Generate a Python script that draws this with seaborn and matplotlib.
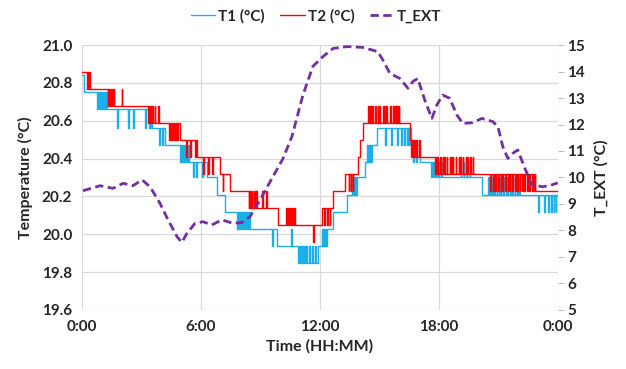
import numpy as np
import pandas as pd
import matplotlib
matplotlib.use("Agg")
import matplotlib.pyplot as plt
import seaborn as sns

# T1 staircase: hour where a level starts, and the level
t1_hours = [0.00, 0.12, 0.76, 3.55, 4.18, 5.20, 6.30, 6.81, 7.20, 8.10, 9.83, 11.35,
            11.90, 12.35, 12.66, 13.36, 13.85, 14.30, 14.62, 14.88, 16.39, 17.04,
            17.70, 20.17, 24.00]
t1_levels = [20.84, 20.75, 20.66, 20.56, 20.47, 20.38, 20.30, 20.21, 20.12, 20.03, 19.94, 19.85,
             19.94, 20.03, 20.12, 20.21, 20.30, 20.38, 20.47, 20.56, 20.47, 20.38,
             20.30, 20.21, 20.21]
# short sensor flickers of T1
t1_spike_hours = [0.82, 0.90, 0.98, 1.06, 1.14, 1.22, 1.76, 2.32, 2.57, 3.18, 3.40, 3.47,
                  3.90, 4.05, 4.95, 5.03, 5.11, 5.27, 5.35, 5.60, 5.75, 6.05,
                  7.82, 7.90, 7.98, 8.06, 8.18, 8.26, 8.34, 8.42, 9.58, 10.54,
                  10.92, 11.00, 11.08, 11.16, 11.24, 11.45, 11.60, 11.75, 12.12, 12.20, 12.28,
                  13.62, 13.70, 13.78, 14.40, 14.47, 14.54,
                  15.30, 15.60, 15.90, 16.10, 16.25, 16.45, 16.55, 16.70, 16.85, 17.60,
                  17.75, 17.85, 17.95, 18.10, 19.10, 19.25, 19.40, 19.55,
                  20.50, 20.58, 20.70, 20.80, 20.92, 21.05, 21.12, 21.25, 21.38, 21.45,
                  21.60, 21.70, 21.82, 21.95, 22.05,
                  23.00, 23.30, 23.50, 23.65, 23.80, 23.90]
t1_spike_levels = [20.75, 20.75, 20.75, 20.75, 20.75, 20.75, 20.56, 20.56, 20.56, 20.56, 20.56, 20.56,
                   20.47, 20.47, 20.38, 20.38, 20.38, 20.47, 20.47, 20.30, 20.30, 20.30,
                   20.03, 20.03, 20.03, 20.03, 20.12, 20.12, 20.12, 20.12, 19.94, 20.03,
                   19.85, 19.85, 19.85, 19.85, 19.85, 19.94, 19.94, 19.94, 20.03, 20.03, 20.03,
                   20.30, 20.30, 20.30, 20.47, 20.47, 20.47,
                   20.47, 20.47, 20.47, 20.47, 20.47, 20.56, 20.56, 20.38, 20.38, 20.30,
                   20.38, 20.38, 20.38, 20.38, 20.38, 20.38, 20.38, 20.38,
                   20.30, 20.30, 20.30, 20.30, 20.30, 20.30, 20.30, 20.30, 20.30, 20.30,
                   20.30, 20.30, 20.30, 20.30, 20.30,
                   20.12, 20.12, 20.12, 20.12, 20.12, 20.12]

# T2 staircase
t2_hours = [0.00, 0.40, 1.45, 3.60, 4.94, 5.80, 6.96, 7.46, 8.60, 9.88, 12.10, 12.66,
            13.26, 13.92, 14.00, 14.17, 16.54, 16.89, 17.80, 22.84, 24.00]
t2_levels = [20.86, 20.77, 20.68, 20.59, 20.50, 20.41, 20.32, 20.23, 20.14, 20.05, 20.14, 20.23,
             20.32, 20.41, 20.50, 20.59, 20.50, 20.41, 20.32, 20.23, 20.23]
t2_spike_hours = [0.25, 0.33, 1.30, 1.37, 1.52, 1.60, 2.00, 3.35, 3.42, 3.50, 3.66, 3.83,
                  4.40, 4.50, 4.60, 4.70, 4.80, 5.25, 5.45, 5.70, 6.10, 6.35, 6.55, 7.10,
                  8.40, 8.47, 8.54, 8.66, 8.73, 8.80, 9.08, 9.28,
                  10.30, 10.40, 10.50, 10.60, 10.70, 11.65, 12.20, 12.35, 12.50,
                  13.45, 13.55, 13.65,
                  14.45, 14.55, 14.62, 14.80, 14.92, 15.00, 15.18, 15.30, 15.36, 15.55,
                  15.70, 15.78, 15.90, 15.98, 16.60, 16.70, 16.80, 17.00,
                  17.85, 17.92, 18.05, 18.20, 18.28, 18.40, 18.55, 18.62, 18.70, 18.85,
                  19.00, 19.08, 19.20, 19.35, 19.42, 19.58, 19.70,
                  20.60, 20.75, 20.85, 21.00, 21.12, 21.20, 21.35, 21.50, 21.58, 21.70,
                  21.85, 21.95, 22.08, 22.20, 22.30, 22.45, 22.55, 22.70, 22.80]
t2_spike_levels = [20.77, 20.77, 20.68, 20.68, 20.77, 20.77, 20.77, 20.59, 20.59, 20.59, 20.68, 20.68,
                   20.50, 20.50, 20.50, 20.50, 20.50, 20.41, 20.41, 20.41, 20.32, 20.32, 20.32, 20.23,
                   20.14, 20.14, 20.14, 20.23, 20.23, 20.23, 20.23, 20.23,
                   20.14, 20.14, 20.14, 20.14, 20.14, 19.96, 20.05, 20.05, 20.05,
                   20.23, 20.23, 20.23,
                   20.68, 20.68, 20.68, 20.68, 20.68, 20.68, 20.68, 20.68, 20.68, 20.68,
                   20.68, 20.68, 20.68, 20.68, 20.41, 20.41, 20.41, 20.50,
                   20.41, 20.41, 20.41, 20.41, 20.41, 20.41, 20.41, 20.41, 20.41, 20.41,
                   20.41, 20.41, 20.41, 20.41, 20.41, 20.41, 20.41,
                   20.23, 20.23, 20.23, 20.23, 20.23, 20.23, 20.23, 20.23, 20.23, 20.23,
                   20.23, 20.23, 20.23, 20.23, 20.23, 20.23, 20.23, 20.23, 20.23]

# outside temperature
text_hours = [0.05, 0.91, 1.56, 2.07, 2.57, 3.03, 3.43, 3.93, 4.34, 4.79, 5.04, 5.29, 5.70,
              6.10, 6.55, 7.06, 7.61, 8.07, 8.47, 8.98, 9.63, 10.13, 10.59, 11.14, 11.65,
              12.15, 12.66, 13.36, 14.17, 14.92, 15.18, 15.53, 16.03, 16.44, 16.69, 16.94,
              17.29, 17.65, 17.90, 18.20, 18.55, 18.91, 19.21, 19.71, 20.17, 20.72, 20.98,
              21.23, 21.48, 21.73, 21.98, 22.34, 22.69, 23.24, 23.70, 24.00]
text_vals = [9.50, 9.69, 9.59, 9.78, 9.69, 9.91, 9.65, 9.03, 8.40, 7.77, 7.55, 7.89, 8.27,
             8.33, 8.21, 8.40, 8.27, 8.30, 8.52, 9.15, 10.03, 10.70, 11.55, 13.10, 14.20,
             14.56, 14.87, 14.94, 14.91, 14.75, 14.43, 13.93, 13.74, 13.37, 13.62, 13.74,
             12.92, 12.23, 12.74, 13.11, 12.99, 12.36, 12.04, 12.07, 12.23, 12.11, 11.92,
             11.16, 10.72, 10.91, 11.04, 10.35, 9.72, 9.65, 9.72, 9.80]

x_ticks = [0, 6, 12, 18, 24]
x_labels = ["0:00", "6:00", "12:00", "18:00", "0:00"]


def staircase(hours, levels, spike_hours, spike_levels, w=0.035):
    bh = np.array(hours)
    bv = np.array(levels)
    pts = list(zip(bh, bv))
    for s, v in zip(spike_hours, spike_levels):
        i = np.searchsorted(bh, s + w, side="right") - 1
        pts.append((s, v))
        pts.append((s + w, bv[i]))
    pts.sort()
    return pd.DataFrame(pts, columns=["hour", "temp"])


df1 = staircase(t1_hours, t1_levels, t1_spike_hours, t1_spike_levels)
df2 = staircase(t2_hours, t2_levels, t2_spike_hours, t2_spike_levels)
dfe = pd.DataFrame({"hour": text_hours, "temp": text_vals})

sns.set_style("white")
plt.rcParams["font.family"] = ["Lato", "DejaVu Sans"]
plt.rcParams["font.weight"] = "bold"

fig, ax = plt.subplots(figsize=(6.26, 3.69), dpi=100)
fig.subplots_adjust(left=0.131, right=0.891, top=0.878, bottom=0.160)

sns.lineplot(data=df1, x="hour", y="temp", ax=ax, color="#1AAFE6", lw=1.0,
             drawstyle="steps-post", estimator=None, sort=False, label="T1 (°C)")
sns.lineplot(data=df2, x="hour", y="temp", ax=ax, color="#FF0000", lw=1.0,
             drawstyle="steps-post", estimator=None, sort=False, label="T2 (°C)")
ax.legend_.remove()

ax2 = ax.twinx()
sns.lineplot(data=dfe, x="hour", y="temp", ax=ax2, color="#7030A0", lw=2.0,
             estimator=None, sort=False, label="T_EXT")
ax2.lines[-1].set_dashes([3, 1.6])
ax2.legend_.remove()

ax.set_xlim(0, 24)
ax.set_ylim(19.6, 21.0)
ax.set_xticks(x_ticks)
ax.set_xticklabels(x_labels)
ax.set_yticks(np.arange(19.6, 21.01, 0.2))
ax.set_yticklabels([f"{v:.1f}" for v in np.arange(19.6, 21.01, 0.2)])
ax2.set_ylim(5, 15)
ax2.set_yticks(range(5, 16))

ax.grid(True, color="#D9D9D9", lw=0.9)
ax.set_axisbelow(True)
for a in (ax, ax2):
    for s in a.spines.values():
        s.set_visible(False)
ax.tick_params(axis="both", length=0, labelsize=11, pad=7)
ax2.tick_params(axis="y", length=4, color="#BFBFBF", labelsize=11, pad=3)

ax.set_xlabel("Time (HH:MM)", fontsize=11.5, fontweight="bold", labelpad=4)
ax.set_ylabel("Temperature (°C)", fontsize=11.5, fontweight="bold", labelpad=6)
ax2.set_ylabel("T_EXT (°C)", fontsize=11.5, fontweight="bold", labelpad=6)

handles = ax.lines[:2] + ax2.lines[-1:]
fig.legend(handles, ["T1 (°C)", "T2 (°C)", "T_EXT"], loc="center", bbox_to_anchor=(0.505, 0.955),
           ncol=3, frameon=False, handlelength=1.6, handletextpad=0.2, columnspacing=1.0,
           prop={"weight": "bold", "size": 11})

fig.savefig("out.png", dpi=100)
